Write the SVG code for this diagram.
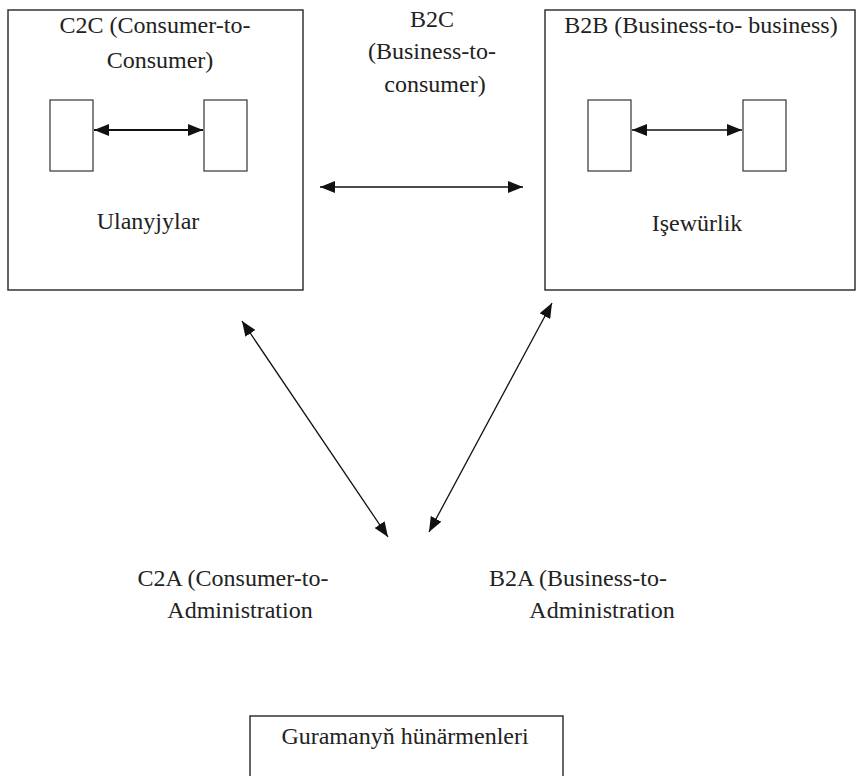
<svg xmlns="http://www.w3.org/2000/svg" width="856" height="776" viewBox="0 0 856 776">
<style>
.box{fill:#fff;stroke:#333;stroke-width:1.5}
.inner{fill:#fff;stroke:#333;stroke-width:1.2}
.ln{stroke:#111;fill:none;marker-start:url(#ah);marker-end:url(#ah)}
</style>
<defs>
<marker id="ah" markerUnits="userSpaceOnUse" markerWidth="16" markerHeight="12" refX="15" refY="6" orient="auto-start-reverse">
<path d="M0,0 L15,6 L0,12 z" fill="#111"/>
</marker>
</defs>
<rect width="856" height="776" fill="#fff"/>
<g font-family="Liberation Serif, DejaVu Serif, serif" font-size="24" fill="#222" text-anchor="middle">
<g id="c2c">
<rect class="box" x="8" y="10" width="295" height="280"/>
<text x="155" y="33">C2C (Consumer-to-</text>
<text x="160" y="68">Consumer)</text>
<rect class="inner" x="50" y="100" width="43" height="71"/>
<rect class="inner" x="204" y="100" width="43" height="71"/>
<text x="148" y="229">Ulanyjylar</text>
</g>
<g id="b2b">
<rect class="box" x="545" y="10" width="310" height="280"/>
<text x="701" y="33">B2B (Business-to- business)</text>
<rect class="inner" x="588" y="100" width="43" height="71"/>
<rect class="inner" x="743" y="100" width="43" height="71"/>
<text x="697" y="231">Işewürlik</text>
</g>
<g id="b2c-label">
<text x="432" y="27">B2C</text>
<text x="432" y="59">(Business-to-</text>
<text x="435" y="92">consumer)</text>
</g>
<g id="c2a-label">
<text x="233" y="586">C2A (Consumer-to-</text>
<text x="240" y="618">Administration</text>
</g>
<g id="b2a-label">
<text x="578" y="586">B2A (Business-to-</text>
<text x="602" y="618">Administration</text>
</g>
<g id="admin">
<rect class="box" x="250" y="716" width="313" height="80"/>
<text x="405" y="744">Guramanyň hünärmenleri</text>
</g>
</g>
<g id="connectors">
<line class="ln" x1="94" y1="130" x2="203" y2="130" stroke-width="2"/>
<line class="ln" x1="632" y1="130" x2="742" y2="130" stroke-width="1.3"/>
<line class="ln" x1="320" y1="187" x2="523" y2="187" stroke-width="1.5"/>
<line class="ln" x1="242" y1="321" x2="388" y2="537" stroke-width="1.3"/>
<line class="ln" x1="552" y1="303" x2="429" y2="532" stroke-width="1.3"/>
</g>
</svg>
